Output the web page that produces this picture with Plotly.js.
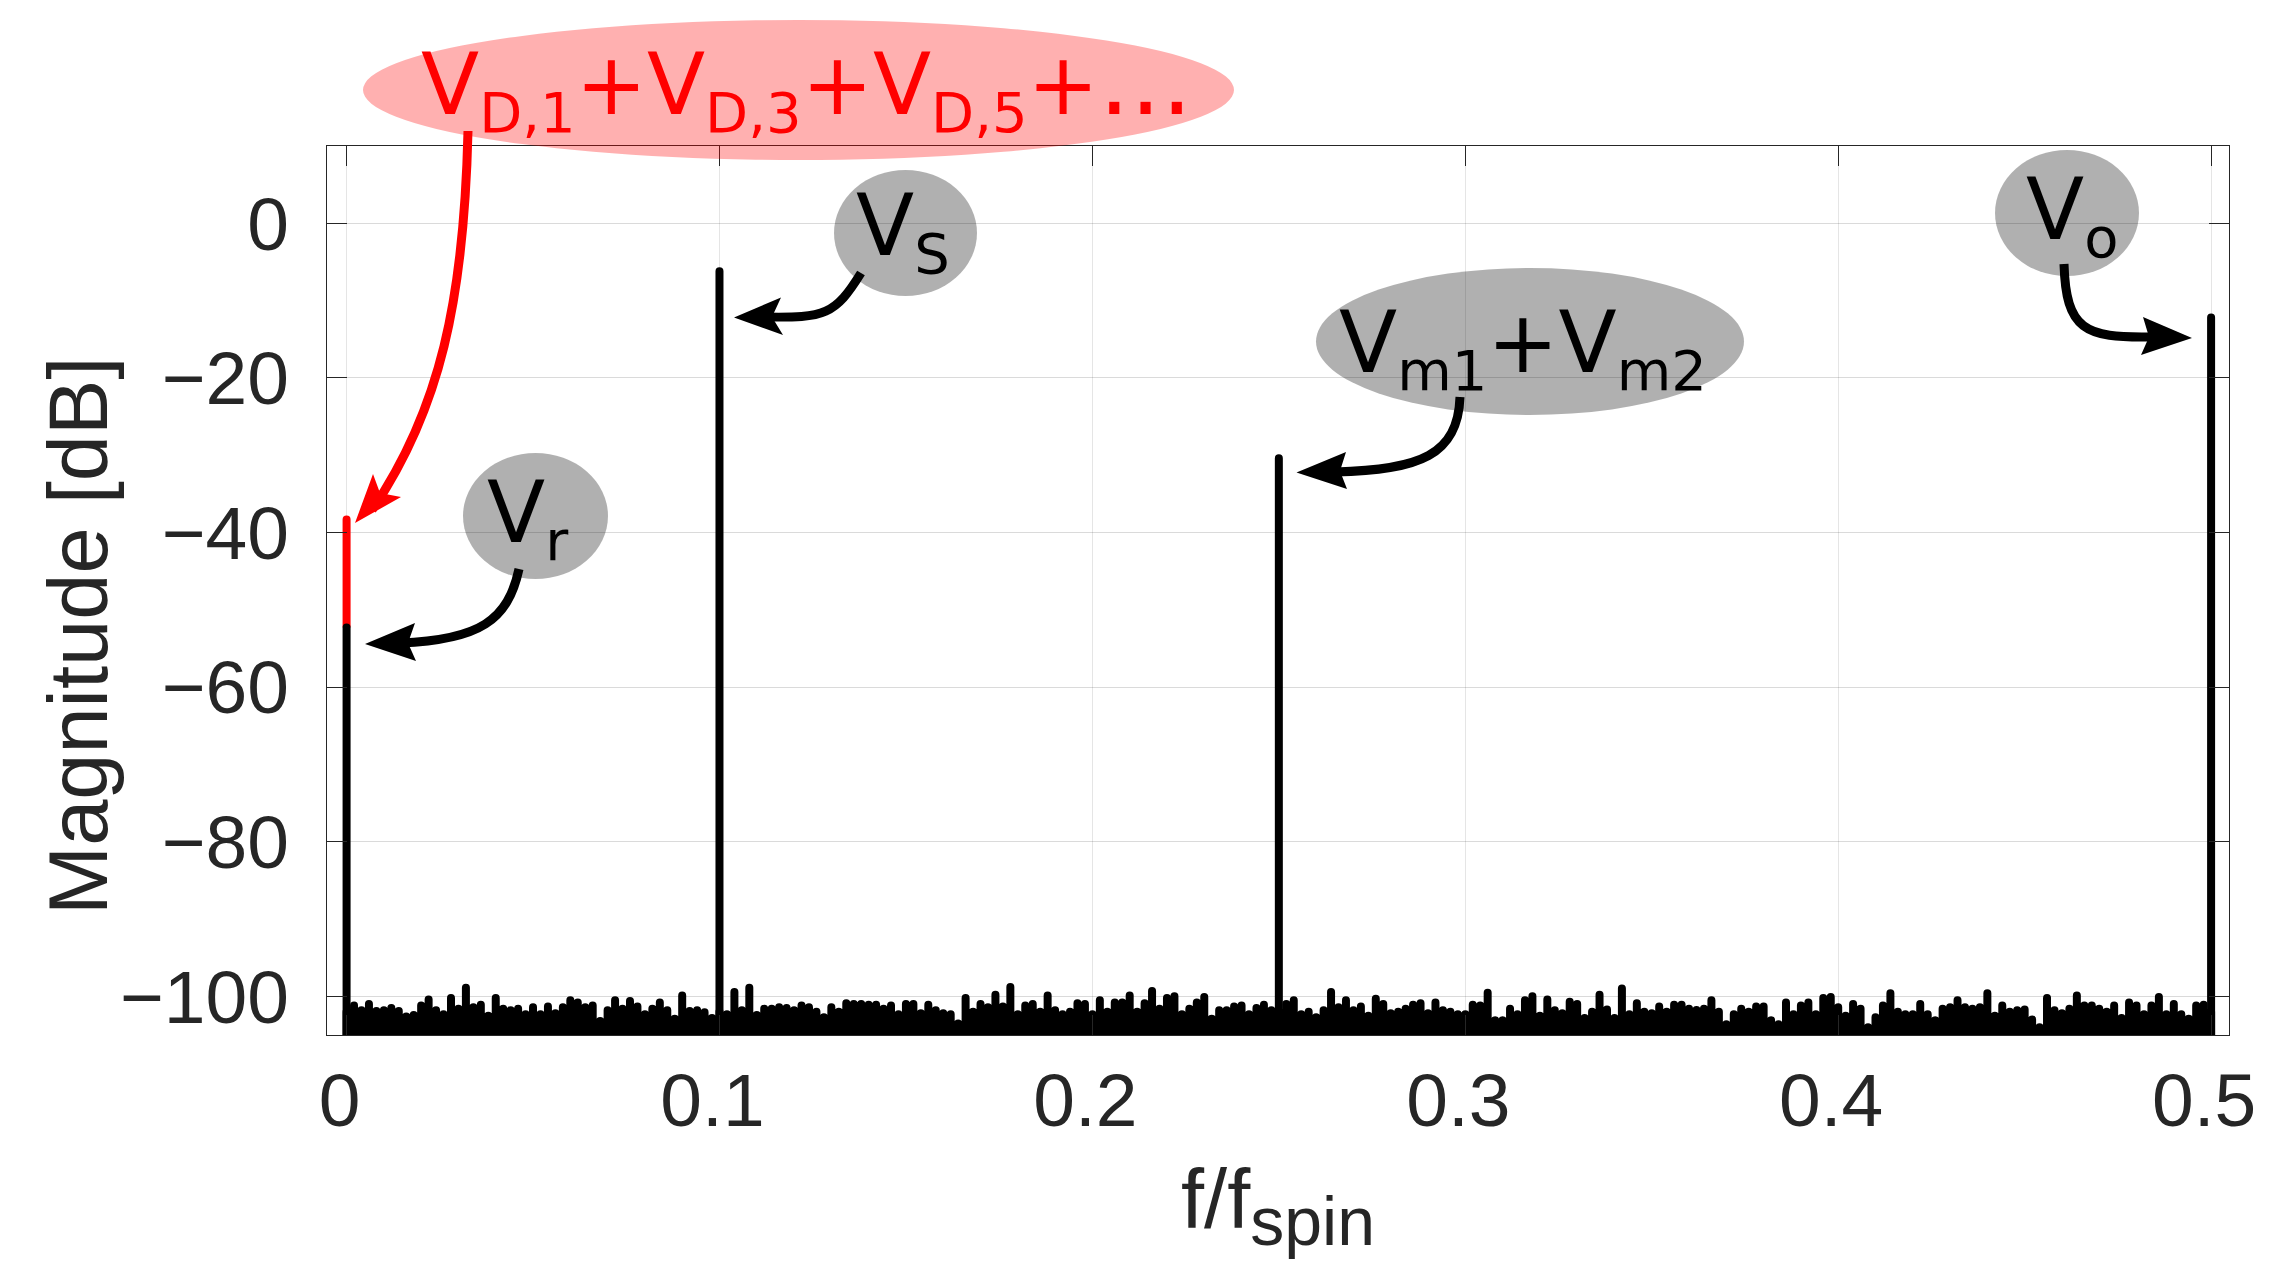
<!DOCTYPE html>
<html><head><meta charset="utf-8">
<script src="https://cdn.plot.ly/plotly-3.0.1.min.js"></script>
<style>html,body{margin:0;padding:0;background:#fff}
.scatterlayer path.js-line{stroke-linejoin:round !important}</style></head>
<body><div id="chart" style="width:2274px;height:1279px"></div>
<script>
const spikeFreq = [0, 0.1, 0.25, 0.5];
const spikeDb = [-52.3, -6.2, -30.4, -12.2];
const redFreq = [0, 0, 0];
const redDb = [-52.3, -38.3, -52.3];
const noiseFreq = [0,0.002,0.004,0.006,0.008,0.01,0.012,0.014,0.016,0.018,0.02,0.022,0.024,0.026,0.028,0.03,0.032,0.034,0.036,0.038,0.04,0.042,0.044,0.046,0.048,0.05,0.052,0.054,0.056,0.058,0.06,0.062,0.064,0.066,0.068,0.07,0.072,0.074,0.076,0.078,0.08,0.082,0.084,0.086,0.088,0.09,0.092,0.094,0.096,0.098,0.1,0.102,0.104,0.106,0.108,0.11,0.112,0.114,0.116,0.118,0.12,0.122,0.124,0.126,0.128,0.13,0.132,0.134,0.136,0.138,0.14,0.142,0.144,0.146,0.148,0.15,0.152,0.154,0.156,0.158,0.16,0.162,0.164,0.166,0.168,0.17,0.172,0.174,0.176,0.178,0.18,0.182,0.184,0.186,0.188,0.19,0.192,0.194,0.196,0.198,0.2,0.202,0.204,0.206,0.208,0.21,0.212,0.214,0.216,0.218,0.22,0.222,0.224,0.226,0.228,0.23,0.232,0.234,0.236,0.238,0.24,0.242,0.244,0.246,0.248,0.25,0.252,0.254,0.256,0.258,0.26,0.262,0.264,0.266,0.268,0.27,0.272,0.274,0.276,0.278,0.28,0.282,0.284,0.286,0.288,0.29,0.292,0.294,0.296,0.298,0.3,0.302,0.304,0.306,0.308,0.31,0.312,0.314,0.316,0.318,0.32,0.322,0.324,0.326,0.328,0.33,0.332,0.334,0.336,0.338,0.34,0.342,0.344,0.346,0.348,0.35,0.352,0.354,0.356,0.358,0.36,0.362,0.364,0.366,0.368,0.37,0.372,0.374,0.376,0.378,0.38,0.382,0.384,0.386,0.388,0.39,0.392,0.394,0.396,0.398,0.4,0.402,0.404,0.406,0.408,0.41,0.412,0.414,0.416,0.418,0.42,0.422,0.424,0.426,0.428,0.43,0.432,0.434,0.436,0.438,0.44,0.442,0.444,0.446,0.448,0.45,0.452,0.454,0.456,0.458,0.46,0.462,0.464,0.466,0.468,0.47,0.472,0.474,0.476,0.478,0.48,0.482,0.484,0.486,0.488,0.49,0.492,0.494,0.496,0.498,0.5];
const noiseDb = [-102,
-101.2,-101.8,-101,-101.9,-101.8,-101.5,-101.9,-102.6,-102.4,-101.2,-100.4,-101.8,-102.3,-100.2,-101.6,-98.9,-101.4,-101.1,-102.5,-100.2,-101.6,-101.8,-101.6,-102.3,-101.4,-102.3,-101.3,-102.2,-101.4,-100.5,-100.8,-101.4,-101.2,-103.2,-101.8,-100.5,
-101.6,-100.6,-101.3,-102.3,-101.6,-100.8,-101.8,-102.9,-99.9,-101.9,-101.8,-102.05,-102.8,-102,-102.3,-99.45,-101.8,-98.9,-102.4,-101.6,-101.6,-101.4,-101.5,-101.8,-101.2,-101.4,-102,-102.7,-101.4,-102,-100.9,-101,-101,-101.1,-101.1,-101.6,
-101.2,-102.3,-101,-101,-102.2,-101.1,-101.8,-102.2,-102.3,-103.5,-100.2,-102,-101,-101.4,-99.8,-101.3,-98.8,-102.3,-101.2,-101,-102,-99.9,-101.8,-102.3,-102,-100.9,-101,-102.3,-100.5,-102,-100.8,-100.8,-99.9,-102,-100.9,-99.3,-101.6,
-100.2,-100,-102.3,-101.6,-100.8,-100.1,-102.9,-101.8,-101.8,-101.3,-101.2,-102.3,-101.5,-101.1,-101.8,-102,-101,-100.5,-102.3,-102,-102.7,-101.8,-99.45,-101.4,-100.5,-101.8,-101.3,-102.5,-100.3,-101,-102.2,-102,-101.6,-101.1,-100.9,-102.2,
-100.8,-101.8,-102,-102.3,-102.3,-101.1,-101.2,-99.55,-103.1,-103.1,-101.6,-102.3,-100.5,-100,-102.5,-100.4,-101.8,-102.2,-100.7,-101,-102.8,-102,-99.8,-101.7,-102.8,-99,-102.3,-100.9,-102,-102.2,-101.3,-102,-101.1,-101.1,-101.6,-101.75,
-101.6,-100.5,-102,-103.6,-102.3,-101.6,-102,-101.3,-101.3,-103.1,-103.6,-100.8,-102.3,-101.2,-100.8,-102.3,-100.2,-100.1,-101.4,-102.5,-101,-101.6,-104,-102.7,-101.2,-99.6,-102,-102.3,-102.3,-101,-102.3,-103.1,-101.6,-101.4,-100.5,-101.4,
-101.6,-101.4,-99.6,-102.5,-101.2,-102,-101.8,-101.7,-103,-104,-100.2,-101.8,-102.2,-101.6,-99.9,-101.2,-101.2,-101.6,-102,-101.2,-102.8,-100.8,-101.2,-102.3,-101.2,-100.1,-102.3,-101,-102.3,-102.9,-101.2,-101.1,-102];
const xTicks = [0, 0.1, 0.2, 0.3, 0.4, 0.5];
const xTickText = ['0', '0.1', '0.2', '0.3', '0.4', '0.5'];
const yTicks = [-100, -80, -60, -40, -20, 0];
const yTickText = ['\u2212100', '\u221280', '\u221260', '\u221240', '\u221220', '0'];

const W = 2274, H = 1279, L = 327, T = 146, R = 2229, B = 1035;
const fx = p => (p - L) / (R - L), fy = p => (B - p) / (B - T);
const sub = s => `<sub><span style="font-size:56px">${s}</span></sub>`;
const labels = [
  {t: `V${sub('D,1')}+V${sub('D,3')}+V${sub('D,5')}+<span style="font-size:98px">...</span>`, x: 420, y: 114, c: '#ff0000'},
  {t: `V${sub('S')}`, x: 855, y: 255, c: '#000'},
  {t: `V${sub('r')}`, x: 486, y: 542, c: '#000'},
  {t: `V${sub('m1')}+V${sub('m2')}`, x: 1338, y: 372, c: '#000'},
  {t: `V${sub('o')}`, x: 2025, y: 239, c: '#000'}
];
const ellipses = [
  {x0: 363, x1: 1234, y0: 20, y1: 160, c: 'rgba(255,0,0,0.31)'},
  {x0: 834, x1: 977, y0: 170, y1: 296, c: 'rgba(0,0,0,0.31)'},
  {x0: 463, x1: 608, y0: 453, y1: 579, c: 'rgba(0,0,0,0.31)'},
  {x0: 1316, x1: 1744, y0: 268, y1: 415, c: 'rgba(0,0,0,0.31)'},
  {x0: 1995, x1: 2139, y0: 150, y1: 276, c: 'rgba(0,0,0,0.31)'}
];
const arrows = [
  {c: '#ff0000', s: [[468,131],[464,300],[440,410],[372,510]], h: [[355,523],[373,474],[380,493],[401,497]]},
  {c: '#000', s: [[861,273],[835,315],[825,318],[765,317]], h: [[734,317.5],[781,297.5],[772,317],[783,335]]},
  {c: '#000', s: [[519,569],[508,620],[480,640],[400,643]], h: [[365,644],[415,623],[408,643],[416,661]]},
  {c: '#000', s: [[1460,397],[1458,455],[1420,470],[1335,472]], h: [[1296.5,472.6],[1346,452],[1340,471],[1347,489]]},
  {c: '#000', s: [[2064,264],[2066,330],[2085,338],[2150,337]], h: [[2192,338],[2143,317],[2149,337],[2141,355]]}
];
const pt = p => `${fx(p[0])},${fy(p[1])}`;
const shapes = [];
ellipses.forEach(e => shapes.push({type: 'circle', xref: 'paper', yref: 'paper', layer: 'above',
  x0: fx(e.x0), x1: fx(e.x1), y0: fy(e.y1), y1: fy(e.y0), fillcolor: e.c, line: {width: 0}}));
arrows.forEach(a => {
  shapes.push({type: 'path', xref: 'paper', yref: 'paper', layer: 'above',
    path: `M${pt(a.s[0])} C${pt(a.s[1])} ${pt(a.s[2])} ${pt(a.s[3])}`, line: {color: a.c, width: 9}, fillcolor: 'rgba(0,0,0,0)'});
  shapes.push({type: 'path', xref: 'paper', yref: 'paper', layer: 'above',
    path: `M${a.h.map(pt).join(' L')} Z`, fillcolor: a.c, line: {width: 0}});
});
const floorDb = -110;
const stemX = [], stemY = [];
noiseFreq.forEach((f, i) => { stemX.push(f, f, f); stemY.push(floorDb, noiseDb[i], floorDb); });
const traces = [
  {type: 'scatter', mode: 'lines', x: stemX, y: stemY, line: {color: '#000', width: 8, simplify: false}, hoverinfo: 'skip'},
  {type: 'scatter', mode: 'lines', x: redFreq, y: redDb, line: {color: '#ff0000', width: 8, simplify: false}},
  ...spikeFreq.map((f, i) => ({type: 'scatter', mode: 'lines', x: [f, f, f], y: [floorDb, spikeDb[i], floorDb], line: {color: '#000', width: 8, simplify: false}}))
];
const tickFont = {family: '"Liberation Sans", Arial, sans-serif', size: 75, color: '#262626'};
const titleFont = {family: '"Liberation Sans", Arial, sans-serif', size: 83, color: '#262626'};
const axisBase = {showline: true, linecolor: '#262626', linewidth: 1, mirror: 'allticks', ticks: 'inside', ticklen: 20, tickwidth: 1, tickcolor: '#262626',
  showgrid: true, gridwidth: 1, zeroline: false, tickfont: tickFont, tickmode: 'array'};
const layout = {
  width: W, height: H, paper_bgcolor: '#fff', plot_bgcolor: '#fff', showlegend: false,
  margin: {l: L, t: T, r: W - R, b: H - B, pad: 0},
  xaxis: {...axisBase, gridcolor: 'rgba(38,38,38,0.12)', range: [-0.00525, 0.5048], tickvals: xTicks, ticktext: xTickText, ticklabelstandoff: 0, ticklabelshift: -7,
    title: {text: 'f/f<sub><span style="font-size:68px">spin</span></sub>', font: titleFont, standoff: 28}},
  yaxis: {...axisBase, gridcolor: 'rgba(38,38,38,0.17)', range: [-105, 10], tickvals: yTicks, ticktext: yTickText, ticklabelstandoff: 22},
  shapes: shapes,
  annotations: [...labels.map(l => ({xref: 'paper', yref: 'paper', x: fx(l.x), y: fy(l.y), xanchor: 'left', yanchor: 'bottom', yshift: -32,
    showarrow: false, align: 'left', borderpad: 0, text: l.t, font: {family: '"DejaVu Sans", sans-serif', size: 85, color: l.c}})),
    {xref: 'paper', yref: 'paper', x: fx(78), y: fy(636), xanchor: 'center', yanchor: 'middle', showarrow: false, textangle: -90,
     text: 'Magnitude [dB]', font: titleFont}]
};
Plotly.newPlot('chart', traces, layout, {displayModeBar: false, staticPlot: true});
</script></body></html>
